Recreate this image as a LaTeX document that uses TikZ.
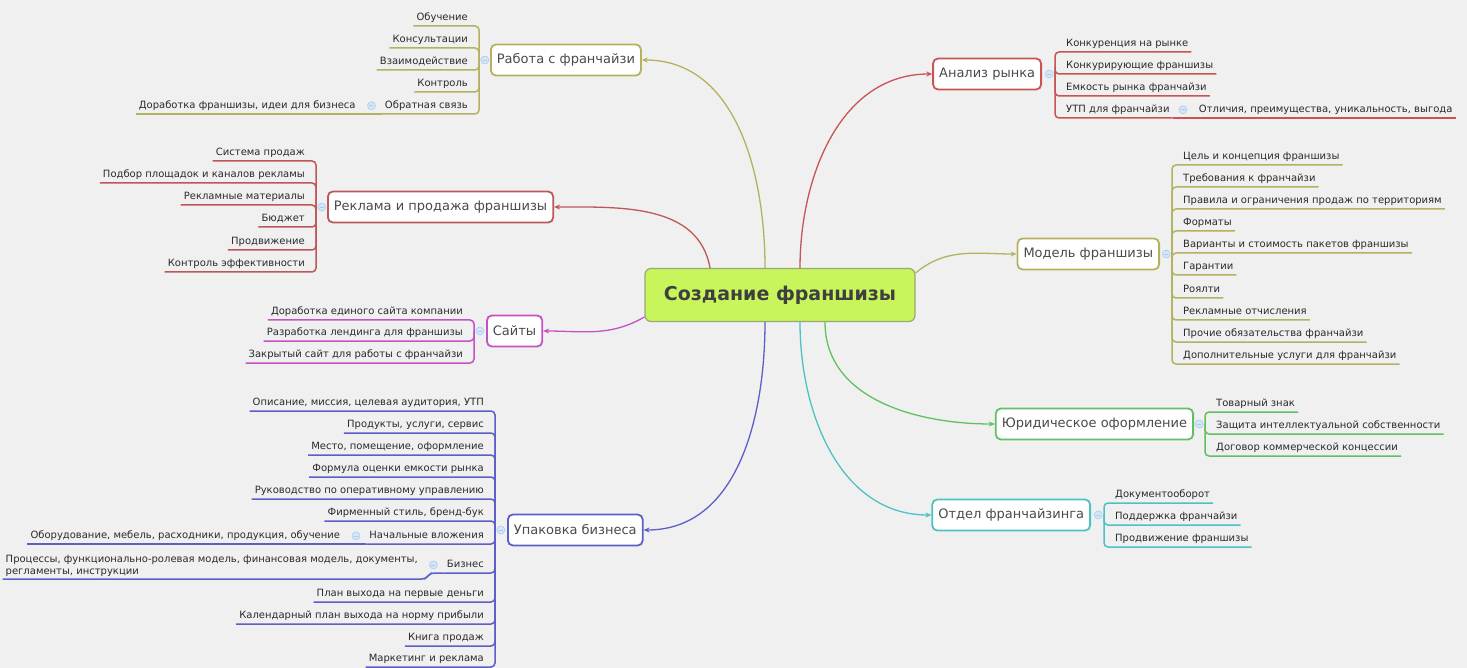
\documentclass[tikz,border=0pt]{standalone}
\usepackage{fontspec}
\setmainfont{DejaVu Sans}
\usetikzlibrary{positioning, calc, arrows.meta}

\definecolor{bgc}{HTML}{F0F0F0}
\definecolor{rootfill}{HTML}{C8F55C}
\definecolor{rootdraw}{HTML}{98A878}
\definecolor{olivec}{HTML}{B4B260}
\definecolor{reklc}{HTML}{BC5858}
\definecolor{analc}{HTML}{C85454}
\definecolor{saitc}{HTML}{C452C4}
\definecolor{upakc}{HTML}{5E5EC8}
\definecolor{jurc}{HTML}{62C062}
\definecolor{otdc}{HTML}{4EC2C2}
\definecolor{dotfill}{HTML}{D4E6F8}
\definecolor{dotdraw}{HTML}{A8CCEE}
\definecolor{txt}{HTML}{2A2A2A}

\tikzset{
  root/.style={draw=rootdraw, fill=rootfill, line width=1.2pt, rounded corners=6pt,
    minimum width=270pt, minimum height=53pt, font=\fontsize{19}{22}\selectfont\bfseries, text=txt!90},
  topic/.style={draw=#1, fill=white, line width=1.8pt, rounded corners=5pt,
    minimum height=31pt, inner xsep=6pt, font=\fontsize{13}{15}\selectfont, text=txt!85},
  leaf/.style={inner xsep=3pt, inner ysep=3pt, text depth=2.5pt,
    font=\fontsize{10}{12}\selectfont, text=txt, align=left},
  bline/.style={draw=#1, line width=1.5pt, rounded corners=4pt},
  link/.style={draw=#1, line width=1.3pt, -{Stealth[length=6pt, width=5pt]}},
  knob/.style={circle, fill=dotfill, draw=dotdraw, line width=0.6pt, minimum size=8pt, inner sep=0pt,
    path picture={\draw[dotdraw, line width=0.8pt]
      ([xshift=-2pt]path picture bounding box.center) -- ([xshift=2pt]path picture bounding box.center);}},
}

\begin{document}
\begin{tikzpicture}[x=1pt, y=-1pt]
\fill[bgc] (0,0) rectangle (1467,668);
\useasboundingbox (0,0) rectangle (1467,668);

% center
\node[root] (root) at (780,295) {Создание франшизы};

% --- Работа с франчайзи
\coordinate (rabhub) at (479,60);
\node[topic=olivec, anchor=west] (rab) at (490,60) {Работа с франчайзи};
\foreach \n/\y/\t in {1/26/Обучение, 2/48/Консультации, 3/70/Взаимодействие, 4/92/Контроль, 5/114/Обратная связь}
  \node[leaf, anchor=south east] (rab\n) at (471,\y) {\t};
\node[leaf, left=23pt of rab5.south west, anchor=south east] (rab51) {Доработка франшизы, идеи для бизнеса};
\foreach \n in {1,...,5}
  \draw[bline=olivec] (rabhub) |- (rab\n.south west);
\draw[bline=olivec] (rab5.south west) -- (rab51.south west);
\node[knob, left=6pt of rab5] {};
\node[knob, right=1.5pt of rabhub] {};

% --- Реклама и продажа франшизы
\coordinate (rekhub) at (316,207);
\node[topic=reklc, anchor=west] (rek) at (327,207) {Реклама и продажа франшизы};
\foreach \n/\y/\t in {1/161/Система продаж, 2/183/Подбор площадок и каналов рекламы, 3/205/Рекламные материалы,
    4/227/Бюджет, 5/250/Продвижение, 6/272/Контроль эффективности}
  \node[leaf, anchor=south east] (rek\n) at (308,\y) {\t};
\foreach \n in {1,...,6}
  \draw[bline=reklc] (rekhub) |- (rek\n.south west);
\node[knob, right=1.5pt of rekhub] {};

% --- Сайты
\coordinate (saithub) at (474,331);
\node[topic=saitc, anchor=west] (sait) at (486,331) {Сайты};
\foreach \n/\y/\t in {1/320/Доработка единого сайта компании, 2/341/Разработка лендинга для франшизы,
    3/363/Закрытый сайт для работы с франчайзи}
  \node[leaf, anchor=south east] (sait\n) at (466,\y) {\t};
\foreach \n in {1,...,3}
  \draw[bline=saitc] (saithub) |- (sait\n.south west);
\node[knob, right=1.5pt of saithub] {};

% --- Упаковка бизнеса
\coordinate (upakhub) at (495,530);
\node[topic=upakc, anchor=west] (upak) at (507,530) {Упаковка бизнеса};
\foreach \n/\y/\t in {1/411/{Описание, миссия, целевая аудитория, УТП}, 2/433/{Продукты, услуги, сервис},
    3/455/{Место, помещение, оформление}, 4/477/Формула оценки емкости рынка,
    5/499/Руководство по оперативному управлению, 6/521/{Фирменный стиль, бренд-бук},
    7/544/Начальные вложения, 8/573/Бизнес, 9/602/План выхода на первые деньги,
    10/624/Календарный план выхода на норму прибыли, 11/646/Книга продаж, 12/667/Маркетинг и реклама}
  \node[leaf, anchor=south east] (upak\n) at (487,\y) {\t};
\node[leaf, left=23pt of upak7.south west, anchor=south east] (upak71)
  {Оборудование, мебель, расходники, продукция, обучение};
\node[leaf, anchor=south east, inner ysep=2pt] (upak81) at (421,579)
  {Процессы, функционально-ролевая модель, финансовая модель, документы,\\регламенты, инструкции};
\foreach \n in {1,...,12}
  \draw[bline=upakc] (upakhub) |- (upak\n.south west);
\draw[bline=upakc] (upak7.south west) -- (upak71.south west);
\draw[bline=upakc] (upak8.south west) -- ([xshift=9pt, yshift=6pt]upak81.south east)
  -- ([xshift=5pt]upak81.south east) -- (upak81.south west);
\node[knob, left=6pt of upak7] {};
\node[knob, left=6pt of upak8] {};
\node[knob, right=1.5pt of upakhub] {};

% --- Анализ рынка
\coordinate (analhub) at (1055,74);
\node[topic=analc, anchor=east] (anal) at (1042,74) {Анализ рынка};
\foreach \n/\y/\t in {1/52/Конкуренция на рынке, 2/74/Конкурирующие франшизы, 3/96/Емкость рынка франчайзи,
    4/118/УТП для франчайзи}
  \node[leaf, anchor=south west] (anal\n) at (1063,\y) {\t};
\node[leaf, right=23pt of anal4.south east, anchor=south west] (anal41)
  {Отличия, преимущества, уникальность, выгода};
\foreach \n in {1,...,4}
  \draw[bline=analc] (analhub) |- (anal\n.south east);
\draw[bline=analc] (anal4.south east) -- (anal41.south east);
\node[knob, right=6pt of anal4] {};
\node[knob, left=1.5pt of analhub] {};

% --- Модель франшизы
\coordinate (modhub) at (1172,254);
\node[topic=olivec, anchor=east] (mod) at (1160,254) {Модель франшизы};
\foreach \n/\y/\t in {1/165/Цель и концепция франшизы, 2/187/Требования к франчайзи,
    3/209/Правила и ограничения продаж по территориям, 4/231/Форматы,
    5/253/Варианты и стоимость пакетов франшизы, 6/275/Гарантии, 7/298/Роялти,
    8/320/Рекламные отчисления, 9/342/Прочие обязательства франчайзи, 10/364/Дополнительные услуги для франчайзи}
  \node[leaf, anchor=south west] (mod\n) at (1180,\y) {\t};
\foreach \n in {1,...,10}
  \draw[bline=olivec] (modhub) |- (mod\n.south east);
\node[knob, left=1.5pt of modhub] {};

% --- Юридическое оформление
\coordinate (jurhub) at (1205,424);
\node[topic=jurc, anchor=east] (jur) at (1194,424) {Юридическое оформление};
\foreach \n/\y/\t in {1/412/Товарный знак, 2/434/Защита интеллектуальной собственности,
    3/456/Договор коммерческой концессии}
  \node[leaf, anchor=south west] (jur\n) at (1213,\y) {\t};
\foreach \n in {1,...,3}
  \draw[bline=jurc] (jurhub) |- (jur\n.south east);
\node[knob, left=1.5pt of jurhub] {};

% --- Отдел франчайзинга
\coordinate (otdhub) at (1104,515);
\node[topic=otdc, anchor=east] (otd) at (1091,515) {Отдел франчайзинга};
\foreach \n/\y/\t in {1/503/Документооборот, 2/525/Поддержка франчайзи, 3/547/Продвижение франшизы}
  \node[leaf, anchor=south west] (otd\n) at (1112,\y) {\t};
\foreach \n in {1,...,3}
  \draw[bline=otdc] (otdhub) |- (otd\n.south east);
\node[knob, left=1.5pt of otdhub] {};

% links from the center
\draw[link=olivec] ([xshift=-15pt]root.north) to[out=90, in=0] (rab.east);
\draw[link=reklc] ([xshift=-70pt]root.north) to[out=100, in=0] (rek.east);
\draw[link=saitc] ([yshift=-22pt]root.west) to[out=210, in=0] (sait.east);
\draw[link=upakc] ([xshift=-15pt]root.south) to[out=-90, in=0] (upak.east);
\draw[link=analc] ([xshift=20pt]root.north) to[out=90, in=180] (anal.west);
\draw[link=olivec] ([yshift=22pt]root.east) to[out=40, in=180] (mod.west);
\draw[link=jurc] ([xshift=45pt]root.south) to[out=-90, in=180] (jur.west);
\draw[link=otdc] ([xshift=20pt]root.south) to[out=-90, in=180] (otd.west);
\end{tikzpicture}
\end{document}
